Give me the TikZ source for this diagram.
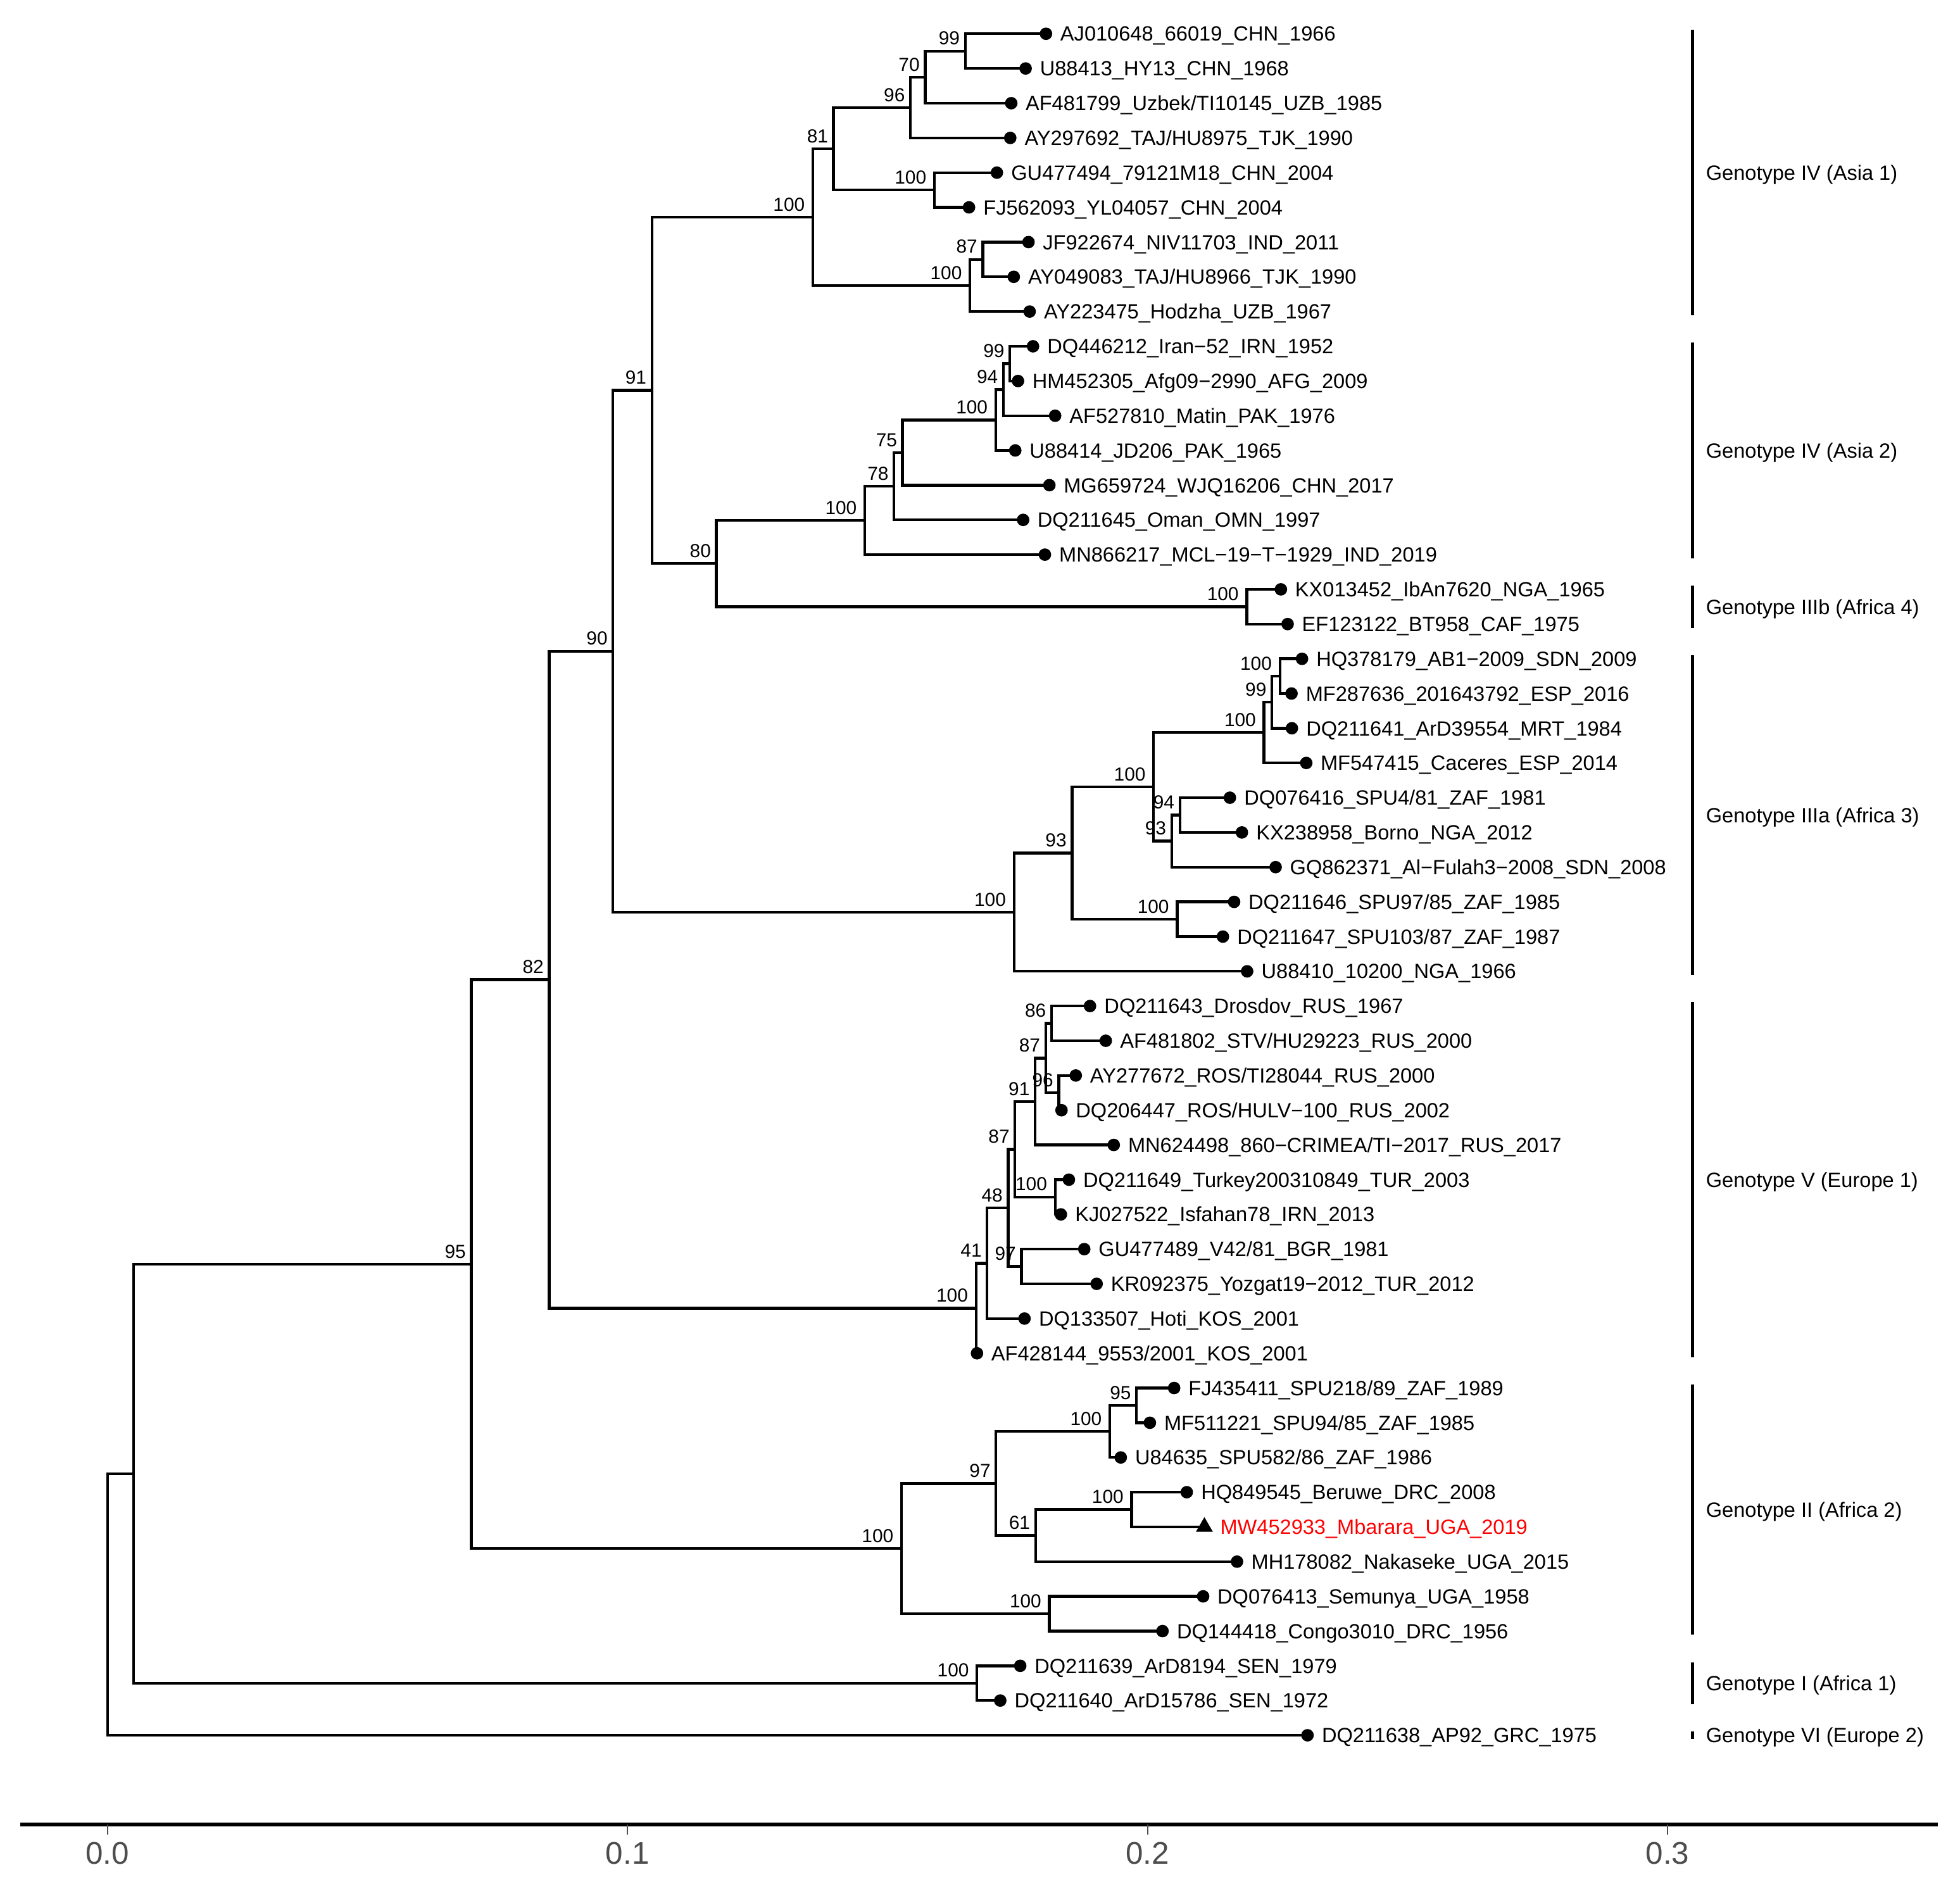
\documentclass[tikz,border=0pt]{standalone}
\usepackage{fontspec}
\setmainfont{Liberation Sans}
\usetikzlibrary{calc,shapes.geometric}
\definecolor{axgray}{RGB}{77,77,77}
\definecolor{tipred}{RGB}{255,0,0}
\newcommand\inode[4]{\path ($(#3)!0.5!(#4)$) coordinate (mid#1);\coordinate (#1) at (#2,0 |- mid#1);}
\newcommand\kids[3]{\draw[br] (#1) |- (#2) (#1) |- (#3);}
\begin{document}
\begin{tikzpicture}[x=1pt,y=-1pt,
 br/.style={line width=2.2pt},
 dot/.style={circle,fill=black,inner sep=0pt,minimum size=10pt},
 tri/.style={regular polygon,regular polygon sides=3,fill=black,inner sep=0pt,minimum size=15.7pt},
 tip/.style={anchor=base west,inner sep=0pt,xshift=11.3pt,yshift=-5.9pt,font=\fontsize{16.5}{16.5}\selectfont},
 bs/.style={anchor=base east,inner sep=0pt,xshift=-4.2pt,yshift=5pt,font=\fontsize{15.1}{15.1}\selectfont},
 bsc/.style={anchor=base east,inner sep=0pt,xshift=-6.3pt,yshift=5pt,font=\fontsize{15.1}{15.1}\selectfont},
 clade/.style={anchor=base west,inner sep=0pt,yshift=-5.9pt,font=\fontsize{16.5}{16.5}\selectfont},
 bar/.style={line width=2.7pt},
 axisline/.style={line width=2.9pt},
 tickmark/.style={line width=1.1pt,draw=axgray},
 ticklab/.style={anchor=base,inner sep=0pt,text=axgray,font=\fontsize{25}{25}\selectfont}]
\fill[white] (0,0) rectangle (1568,1507);
\useasboundingbox (0,0) rectangle (1568,1507);
% ---------- leaves ----------
\coordinate (l1) at (836.8,27.00);
\coordinate (l2) at (820.5,54.78);
\coordinate (l3) at (809.0,82.56);
\coordinate (l4) at (808.2,110.34);
\coordinate (l5) at (797.5,138.12);
\coordinate (l6) at (775.2,165.90);
\coordinate (l7) at (822.8,193.68);
\coordinate (l8) at (811.0,221.46);
\coordinate (l9) at (823.7,249.24);
\coordinate (l10) at (826.4,277.02);
\coordinate (l11) at (814.4,304.80);
\coordinate (l12) at (844.1,332.58);
\coordinate (l13) at (812.2,360.36);
\coordinate (l14) at (839.5,388.14);
\coordinate (l15) at (818.5,415.92);
\coordinate (l16) at (835.9,443.70);
\coordinate (l17) at (1024.7,471.48);
\coordinate (l18) at (1030.1,499.26);
\coordinate (l19) at (1041.6,527.04);
\coordinate (l20) at (1033.2,554.82);
\coordinate (l21) at (1033.5,582.60);
\coordinate (l22) at (1045.0,610.38);
\coordinate (l23) at (983.9,638.16);
\coordinate (l24) at (993.5,665.94);
\coordinate (l25) at (1020.5,693.72);
\coordinate (l26) at (987.3,721.50);
\coordinate (l27) at (978.3,749.28);
\coordinate (l28) at (997.7,777.06);
\coordinate (l29) at (872.0,804.84);
\coordinate (l30) at (884.6,832.62);
\coordinate (l31) at (860.6,860.40);
\coordinate (l32) at (849.2,888.18);
\coordinate (l33) at (891.0,915.96);
\coordinate (l34) at (855.1,943.74);
\coordinate (l35) at (848.7,971.52);
\coordinate (l36) at (867.4,999.30);
\coordinate (l37) at (877.3,1027.08);
\coordinate (l38) at (819.6,1054.86);
\coordinate (l39) at (781.6,1082.64);
\coordinate (l40) at (939.3,1110.42);
\coordinate (l41) at (919.9,1138.20);
\coordinate (l42) at (896.6,1165.98);
\coordinate (l43) at (949.4,1193.76);
\coordinate (l44) at (963.5,1221.54);
\coordinate (l45) at (989.6,1249.32);
\coordinate (l46) at (962.5,1277.10);
\coordinate (l47) at (930.0,1304.88);
\coordinate (l48) at (816.2,1332.66);
\coordinate (l49) at (800.2,1360.44);
\coordinate (l50) at (1046.0,1388.22);
% ---------- internal nodes ----------
\inode{n99}{772.2}{l1}{l2}
\inode{n70}{740.1}{n99}{l3}
\inode{n96}{728.3}{n70}{l4}
\inode{na100}{747.5}{l5}{l6}
\inode{n81}{666.8}{n96}{na100}
\inode{n87}{786.2}{l7}{l8}
\inode{nb100}{776.0}{n87}{l9}
\inode{asia1}{650.3}{n81}{nb100}
\inode{n99b}{807.9}{l10}{l11}
\inode{n94}{802.7}{n99b}{l12}
\inode{nd100}{796.6}{n94}{l13}
\inode{n75}{722.0}{nd100}{l14}
\inode{n78}{715.2}{n75}{l15}
\inode{nc100}{691.9}{n78}{l16}
\inode{iiib}{997.4}{l17}{l18}
\inode{n80}{573.1}{nc100}{iiib}
\inode{nE}{521.5}{asia1}{n80}
\inode{ng100}{1023.9}{l19}{l20}
\inode{n99c}{1017.5}{ng100}{l21}
\inode{nf100}{1011.2}{n99c}{l22}
\inode{n94b}{943.9}{l23}{l24}
\inode{n93b}{937.3}{n94b}{l25}
\inode{ne100}{922.9}{nf100}{n93b}
\inode{nh100}{941.7}{l26}{l27}
\inode{n93}{857.6}{ne100}{nh100}
\inode{iiia}{811.2}{n93}{l28}
\inode{nD}{490.4}{nE}{iiia}
\inode{n86}{841.2}{l29}{l30}
\inode{n96b}{847.0}{l31}{l32}
\inode{n87d}{836.5}{n86}{n96b}
\inode{n91}{828.1}{n87d}{l33}
\inode{ni100}{844.1}{l34}{l35}
\inode{n87c}{812.0}{n91}{ni100}
\inode{n97}{817.1}{l36}{l37}
\inode{n48}{806.5}{n87c}{n97}
\inode{n41}{789.7}{n48}{l38}
\inode{nV}{780.8}{n41}{l39}
\inode{nC}{439.3}{nD}{nV}
\inode{n95}{909.2}{l40}{l41}
\inode{nj100}{887.9}{n95}{l42}
\inode{nk100}{905.3}{l43}{l44}
\inode{n61}{828.4}{nk100}{l45}
\inode{n97c}{796.8}{nj100}{n61}
\inode{nl100}{839.5}{l46}{l47}
\inode{nII}{721.2}{n97c}{nl100}
\inode{nB}{377.0}{nC}{nII}
\inode{nI}{781.6}{l48}{l49}
\inode{nA}{107.0}{nB}{nI}
\inode{root}{86.0}{nA}{l50}
% ---------- branches ----------
\kids{n99}{l1}{l2}
\kids{n70}{n99}{l3}
\kids{n96}{n70}{l4}
\kids{na100}{l5}{l6}
\kids{n81}{n96}{na100}
\kids{n87}{l7}{l8}
\kids{nb100}{n87}{l9}
\kids{asia1}{n81}{nb100}
\kids{n99b}{l10}{l11}
\kids{n94}{n99b}{l12}
\kids{nd100}{n94}{l13}
\kids{n75}{nd100}{l14}
\kids{n78}{n75}{l15}
\kids{nc100}{n78}{l16}
\kids{iiib}{l17}{l18}
\kids{n80}{nc100}{iiib}
\kids{nE}{asia1}{n80}
\kids{ng100}{l19}{l20}
\kids{n99c}{ng100}{l21}
\kids{nf100}{n99c}{l22}
\kids{n94b}{l23}{l24}
\kids{n93b}{n94b}{l25}
\kids{ne100}{nf100}{n93b}
\kids{nh100}{l26}{l27}
\kids{n93}{ne100}{nh100}
\kids{iiia}{n93}{l28}
\kids{nD}{nE}{iiia}
\kids{n86}{l29}{l30}
\kids{n96b}{l31}{l32}
\kids{n87d}{n86}{n96b}
\kids{n91}{n87d}{l33}
\kids{ni100}{l34}{l35}
\kids{n87c}{n91}{ni100}
\kids{n97}{l36}{l37}
\kids{n48}{n87c}{n97}
\kids{n41}{n48}{l38}
\kids{nV}{n41}{l39}
\kids{nC}{nD}{nV}
\kids{n95}{l40}{l41}
\kids{nj100}{n95}{l42}
\kids{nk100}{l43}{l44}
\kids{n61}{nk100}{l45}
\kids{n97c}{nj100}{n61}
\kids{nl100}{l46}{l47}
\kids{nII}{n97c}{nl100}
\kids{nB}{nC}{nII}
\kids{nI}{l48}{l49}
\kids{nA}{nB}{nI}
\kids{root}{nA}{l50}
% ---------- tip symbols ----------
\foreach \i in {1,...,43,45,46,47,48,49,50} {\node[dot] (d\i) at (l\i) {};}
\node[tri] (d44) at (l44) {};
% ---------- tip labels ----------
\node[tip] (t1) at (l1) {AJ010648\_66019\_CHN\_1966};
\node[tip] (t2) at (l2) {U88413\_HY13\_CHN\_1968};
\node[tip] (t3) at (l3) {AF481799\_Uzbek/TI10145\_UZB\_1985};
\node[tip] (t4) at (l4) {AY297692\_TAJ/HU8975\_TJK\_1990};
\node[tip] (t5) at (l5) {GU477494\_79121M18\_CHN\_2004};
\node[tip] (t6) at (l6) {FJ562093\_YL04057\_CHN\_2004};
\node[tip] (t7) at (l7) {JF922674\_NIV11703\_IND\_2011};
\node[tip] (t8) at (l8) {AY049083\_TAJ/HU8966\_TJK\_1990};
\node[tip] (t9) at (l9) {AY223475\_Hodzha\_UZB\_1967};
\node[tip] (t10) at (l10) {DQ446212\_Iran−52\_IRN\_1952};
\node[tip] (t11) at (l11) {HM452305\_Afg09−2990\_AFG\_2009};
\node[tip] (t12) at (l12) {AF527810\_Matin\_PAK\_1976};
\node[tip] (t13) at (l13) {U88414\_JD206\_PAK\_1965};
\node[tip] (t14) at (l14) {MG659724\_WJQ16206\_CHN\_2017};
\node[tip] (t15) at (l15) {DQ211645\_Oman\_OMN\_1997};
\node[tip] (t16) at (l16) {MN866217\_MCL−19−T−1929\_IND\_2019};
\node[tip] (t17) at (l17) {KX013452\_IbAn7620\_NGA\_1965};
\node[tip] (t18) at (l18) {EF123122\_BT958\_CAF\_1975};
\node[tip] (t19) at (l19) {HQ378179\_AB1−2009\_SDN\_2009};
\node[tip] (t20) at (l20) {MF287636\_201643792\_ESP\_2016};
\node[tip] (t21) at (l21) {DQ211641\_ArD39554\_MRT\_1984};
\node[tip] (t22) at (l22) {MF547415\_Caceres\_ESP\_2014};
\node[tip] (t23) at (l23) {DQ076416\_SPU4/81\_ZAF\_1981};
\node[tip] (t24) at (l24) {KX238958\_Borno\_NGA\_2012};
\node[tip] (t25) at (l25) {GQ862371\_Al−Fulah3−2008\_SDN\_2008};
\node[tip] (t26) at (l26) {DQ211646\_SPU97/85\_ZAF\_1985};
\node[tip] (t27) at (l27) {DQ211647\_SPU103/87\_ZAF\_1987};
\node[tip] (t28) at (l28) {U88410\_10200\_NGA\_1966};
\node[tip] (t29) at (l29) {DQ211643\_Drosdov\_RUS\_1967};
\node[tip] (t30) at (l30) {AF481802\_STV/HU29223\_RUS\_2000};
\node[tip] (t31) at (l31) {AY277672\_ROS/TI28044\_RUS\_2000};
\node[tip] (t32) at (l32) {DQ206447\_ROS/HULV−100\_RUS\_2002};
\node[tip] (t33) at (l33) {MN624498\_860−CRIMEA/TI−2017\_RUS\_2017};
\node[tip] (t34) at (l34) {DQ211649\_Turkey200310849\_TUR\_2003};
\node[tip] (t35) at (l35) {KJ027522\_Isfahan78\_IRN\_2013};
\node[tip] (t36) at (l36) {GU477489\_V42/81\_BGR\_1981};
\node[tip] (t37) at (l37) {KR092375\_Yozgat19−2012\_TUR\_2012};
\node[tip] (t38) at (l38) {DQ133507\_Hoti\_KOS\_2001};
\node[tip] (t39) at (l39) {AF428144\_9553/2001\_KOS\_2001};
\node[tip] (t40) at (l40) {FJ435411\_SPU218/89\_ZAF\_1989};
\node[tip] (t41) at (l41) {MF511221\_SPU94/85\_ZAF\_1985};
\node[tip] (t42) at (l42) {U84635\_SPU582/86\_ZAF\_1986};
\node[tip] (t43) at (l43) {HQ849545\_Beruwe\_DRC\_2008};
\node[tip,xshift=1.2pt,text=tipred] (t44) at (l44) {MW452933\_Mbarara\_UGA\_2019};
\node[tip] (t45) at (l45) {MH178082\_Nakaseke\_UGA\_2015};
\node[tip] (t46) at (l46) {DQ076413\_Semunya\_UGA\_1958};
\node[tip] (t47) at (l47) {DQ144418\_Congo3010\_DRC\_1956};
\node[tip] (t48) at (l48) {DQ211639\_ArD8194\_SEN\_1979};
\node[tip] (t49) at (l49) {DQ211640\_ArD15786\_SEN\_1972};
\node[tip] (t50) at (l50) {DQ211638\_AP92\_GRC\_1975};
% ---------- bootstrap values ----------
\node[bs] (b-n99) at (n99) {99};
\node[bs] (b-n70) at (n70) {70};
\node[bs] (b-n96) at (n96) {96};
\node[bsc] (b-na100) at (na100) {100};
\node[bs] (b-n81) at (n81) {81};
\node[bs] (b-n87) at (n87) {87};
\node[bsc] (b-nb100) at (nb100) {100};
\node[bsc] (b-asia1) at (asia1) {100};
\node[bs] (b-n99b) at (n99b) {99};
\node[bs] (b-n94) at (n94) {94};
\node[bsc] (b-nd100) at (nd100) {100};
\node[bs] (b-n75) at (n75) {75};
\node[bs] (b-n78) at (n78) {78};
\node[bsc] (b-nc100) at (nc100) {100};
\node[bsc] (b-iiib) at (iiib) {100};
\node[bs] (b-n80) at (n80) {80};
\node[bs] (b-nE) at (nE) {91};
\node[bsc] (b-ng100) at (ng100) {100};
\node[bs] (b-n99c) at (n99c) {99};
\node[bsc] (b-nf100) at (nf100) {100};
\node[bs] (b-n94b) at (n94b) {94};
\node[bs] (b-n93b) at (n93b) {93};
\node[bsc] (b-ne100) at (ne100) {100};
\node[bsc] (b-nh100) at (nh100) {100};
\node[bs] (b-n93) at (n93) {93};
\node[bsc] (b-iiia) at (iiia) {100};
\node[bs] (b-nD) at (nD) {90};
\node[bs] (b-n86) at (n86) {86};
\node[bs] (b-n96b) at (n96b) {96};
\node[bs] (b-n87d) at (n87d) {87};
\node[bs] (b-n91) at (n91) {91};
\node[bsc] (b-ni100) at (ni100) {100};
\node[bs] (b-n87c) at (n87c) {87};
\node[bs] (b-n97) at (n97) {97};
\node[bs] (b-n48) at (n48) {48};
\node[bs] (b-n41) at (n41) {41};
\node[bsc] (b-nV) at (nV) {100};
\node[bs] (b-nC) at (nC) {82};
\node[bs] (b-n95) at (n95) {95};
\node[bsc] (b-nj100) at (nj100) {100};
\node[bsc] (b-nk100) at (nk100) {100};
\node[bs] (b-n61) at (n61) {61};
\node[bs] (b-n97c) at (n97c) {97};
\node[bsc] (b-nl100) at (nl100) {100};
\node[bsc] (b-nII) at (nII) {100};
\node[bs] (b-nB) at (nB) {95};
\node[bsc] (b-nI) at (nI) {100};
% ---------- clade bars ----------
\foreach \k/\ya/\yb/\lab in {1/24.0/252.2/Genotype IV (Asia 1),
  2/274.0/446.7/Genotype IV (Asia 2),
  3/468.5/502.3/Genotype IIIb (Africa 4),
  4/524.0/780.1/Genotype IIIa (Africa 3),
  5/801.8/1085.6/Genotype V (Europe 1),
  6/1107.4/1307.9/Genotype II (Africa 2),
  7/1329.7/1363.4/Genotype I (Africa 1),
  8/1385.0/1391.4/Genotype VI (Europe 2)} {
  \coordinate (ca\k) at (1354,\ya);
  \coordinate (cb\k) at (1354,\yb);
  \draw[bar] (ca\k) -- (cb\k);
  \node[clade] (cl\k) at ($(ca\k)!0.5!(cb\k)+(10.6,0)$) {\lab};
}
% ---------- axis ----------
\coordinate (axL) at (16,1459.7);
\coordinate (axR) at (1550,1459.7);
\draw[axisline] (axL) -- (axR);
\foreach \x/\lab [count=\k] in {86/0.0,502/0.1,918/0.2,1334/0.3} {
  \coordinate (tka\k) at (\x,1459.7);
  \coordinate (tkb\k) at (\x,1467.5);
  \draw[tickmark] (tka\k) -- (tkb\k);
  \node[ticklab] (tl\k) at (\x,1491.5) {\lab};
}
\end{tikzpicture}
\end{document}
